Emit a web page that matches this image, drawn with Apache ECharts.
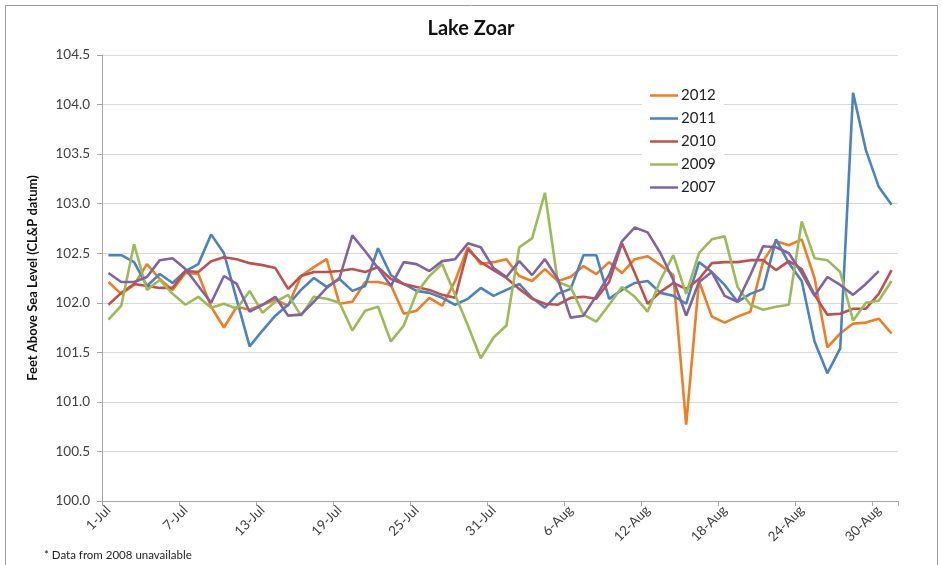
<!DOCTYPE html>
<html>
<head>
<meta charset="utf-8">
<script src="https://cdn.jsdelivr.net/npm/echarts@6/dist/echarts.min.js"></script>
<style>
  html, body { margin: 0; padding: 0; background: #ffffff; }
  #chart { width: 942px; height: 565px; }
</style>
</head>
<body>
<div id="chart"></div>
<script>
// Daily dates, 1 July through 31 August
const days = [
  '1-Jul','2-Jul','3-Jul','4-Jul','5-Jul','6-Jul','7-Jul','8-Jul','9-Jul','10-Jul',
  '11-Jul','12-Jul','13-Jul','14-Jul','15-Jul','16-Jul','17-Jul','18-Jul','19-Jul','20-Jul',
  '21-Jul','22-Jul','23-Jul','24-Jul','25-Jul','26-Jul','27-Jul','28-Jul','29-Jul','30-Jul',
  '31-Jul','1-Aug','2-Aug','3-Aug','4-Aug','5-Aug','6-Aug','7-Aug','8-Aug','9-Aug',
  '10-Aug','11-Aug','12-Aug','13-Aug','14-Aug','15-Aug','16-Aug','17-Aug','18-Aug','19-Aug',
  '20-Aug','21-Aug','22-Aug','23-Aug','24-Aug','25-Aug','26-Aug','27-Aug','28-Aug','29-Aug',
  '30-Aug','31-Aug'
];

// Lake level, feet above sea level (CL&P datum)
const level2012 = [
  102.21,102.09,102.18,102.39,102.24,102.13,102.30,102.29,101.96,101.75,
  101.96,101.93,101.98,102.03,101.97,102.27,102.36,102.44,101.99,102.01,
  102.21,102.21,102.18,101.89,101.92,102.05,101.97,102.22,102.56,102.39,
  102.41,102.44,102.27,102.22,102.34,102.22,102.26,102.37,102.29,102.41,
  102.30,102.44,102.47,102.38,102.28,100.77,102.22,101.86,101.80,101.86,
  101.91,102.42,102.62,102.58,102.64,102.25,101.55,101.69,101.79,101.80,
  101.84,101.69
];
const level2011 = [
  102.48,102.48,102.41,102.17,102.29,102.20,102.32,102.39,102.69,102.50,
  102.03,101.56,101.72,101.87,101.98,102.13,102.25,102.16,102.24,102.12,
  102.17,102.55,102.28,102.19,102.12,102.10,102.05,101.98,102.04,102.15,
  102.07,102.13,102.19,102.05,101.95,102.09,102.14,102.48,102.48,102.04,
  102.13,102.20,102.22,102.10,102.07,101.99,102.41,102.31,102.18,102.01,
  102.09,102.14,102.64,102.40,102.22,101.61,101.29,101.54,104.12,103.54,
  103.17,102.99
];
const level2010 = [
  101.98,102.10,102.19,102.17,102.15,102.15,102.32,102.31,102.42,102.46,
  102.44,102.40,102.38,102.35,102.14,102.27,102.31,102.31,102.32,102.34,
  102.31,102.36,102.24,102.19,102.16,102.13,102.08,102.05,102.54,102.41,
  102.33,102.25,102.14,102.04,101.99,101.98,102.05,102.06,102.04,102.21,
  102.60,102.30,101.99,102.11,102.20,102.14,102.24,102.40,102.41,102.41,
  102.43,102.43,102.33,102.42,102.34,102.08,101.88,101.89,101.94,101.94,
  102.09,102.33
];
const level2009 = [
  101.83,101.97,102.59,102.13,102.23,102.09,101.98,102.06,101.95,101.99,
  101.94,102.12,101.90,102.01,102.08,101.87,102.06,102.04,102.00,101.72,
  101.92,101.96,101.61,101.77,102.10,102.27,102.39,102.08,101.77,101.44,
  101.65,101.77,102.56,102.65,103.11,102.21,102.16,101.88,101.81,101.98,
  102.16,102.06,101.91,102.23,102.48,102.09,102.50,102.64,102.67,102.16,
  101.98,101.93,101.96,101.98,102.82,102.45,102.43,102.31,101.82,102.00,
  102.02,102.22
];
const level2007 = [
  102.30,102.21,102.21,102.26,102.43,102.45,102.34,102.17,102.00,102.27,
  102.19,101.91,101.98,102.06,101.87,101.88,102.01,102.15,102.25,102.68,
  102.52,102.35,102.17,102.41,102.39,102.32,102.42,102.44,102.60,102.56,
  102.35,102.26,102.42,102.28,102.44,102.24,101.85,101.87,102.07,102.28,
  102.62,102.76,102.71,102.50,102.23,101.87,102.21,102.31,102.07,102.01,
  102.28,102.57,102.56,102.50,102.30,102.07,102.26,102.18,102.08,102.19,
  102.32,null
];

const seriesNames = ['2012', '2011', '2010', '2009', '2007'];
const seriesData = [level2012, level2011, level2010, level2009, level2007];
const seriesColors = ['#EF7D22', '#4A82C3', '#C0504D', '#9BBB59', '#8064A2'];

const yTicks = { min: 100, max: 104.5, step: 0.5 };

const fontFamily = 'Lato, "Open Sans", "Noto Sans", sans-serif';
const textColor = '#404040';

const chart = echarts.init(document.getElementById('chart'), null, { renderer: 'canvas' });

chart.setOption({
  backgroundColor: '#ffffff',
  animation: false,
  textStyle: { fontFamily: fontFamily },
  title: {
    text: 'Lake Zoar',
    left: 'center',
    top: 14,
    textStyle: { fontFamily: fontFamily, fontSize: 20, fontWeight: 'bold', color: '#111111' }
  },
  graphic: [
    {
      type: 'rect',
      shape: { x: 5.5, y: 5.5, width: 932, height: 580 },
      style: { fill: 'none', stroke: '#9a9a9a', lineWidth: 1 },
      silent: true
    },
    {
      type: 'text',
      left: 44,
      top: 549,
      style: {
        text: '* Data from 2008 unavailable',
        fontFamily: fontFamily,
        fontSize: 11.5,
        fill: '#222222'
      }
    }
  ],
  legend: {
    orient: 'vertical',
    left: 642,
    top: 80,
    icon: 'rect',
    itemWidth: 28,
    itemHeight: 2.5,
    itemGap: 8,
    padding: [8, 8, 8, 8],
    backgroundColor: '#ffffff',
    data: seriesNames,
    textStyle: { fontFamily: fontFamily, fontSize: 15, color: '#222222', padding: [0, 0, 0, -2] }
  },
  grid: { left: 102, right: 44, top: 55, bottom: 64 },
  xAxis: {
    type: 'category',
    data: days,
    boundaryGap: true,
    axisLine: { lineStyle: { color: '#a6a6a6', width: 1 } },
    axisTick: { show: true, interval: 5, length: 5, lineStyle: { color: '#a6a6a6' } },
    axisLabel: {
      interval: 5,
      rotate: 45,
      margin: 7,
      fontFamily: fontFamily,
      fontSize: 13.5,
      color: textColor
    },
    splitLine: { show: false }
  },
  yAxis: {
    type: 'value',
    min: yTicks.min,
    max: yTicks.max,
    interval: yTicks.step,
    name: 'Feet Above Sea Level (CL&P datum)',
    nameLocation: 'middle',
    nameRotate: 90,
    nameGap: 63,
    nameTextStyle: { fontFamily: fontFamily, fontSize: 13, fontWeight: 'bold', color: '#111111' },
    axisLine: { show: true, lineStyle: { color: '#a6a6a6', width: 1 } },
    axisTick: { show: true, length: 5, lineStyle: { color: '#a6a6a6' } },
    axisLabel: {
      margin: 12,
      fontFamily: fontFamily,
      fontSize: 13.5,
      color: textColor,
      formatter: v => v.toFixed(1)
    },
    splitLine: { lineStyle: { color: '#d9d9d9', width: 1.2 } }
  },
  series: seriesNames.map((name, i) => ({
    name: name,
    type: 'line',
    data: seriesData[i],
    symbol: 'none',
    smooth: false,
    connectNulls: false,
    color: seriesColors[i],
    lineStyle: { width: 2.6, color: seriesColors[i] },
    z: 2 + i
  }))
});
</script>
</body>
</html>
